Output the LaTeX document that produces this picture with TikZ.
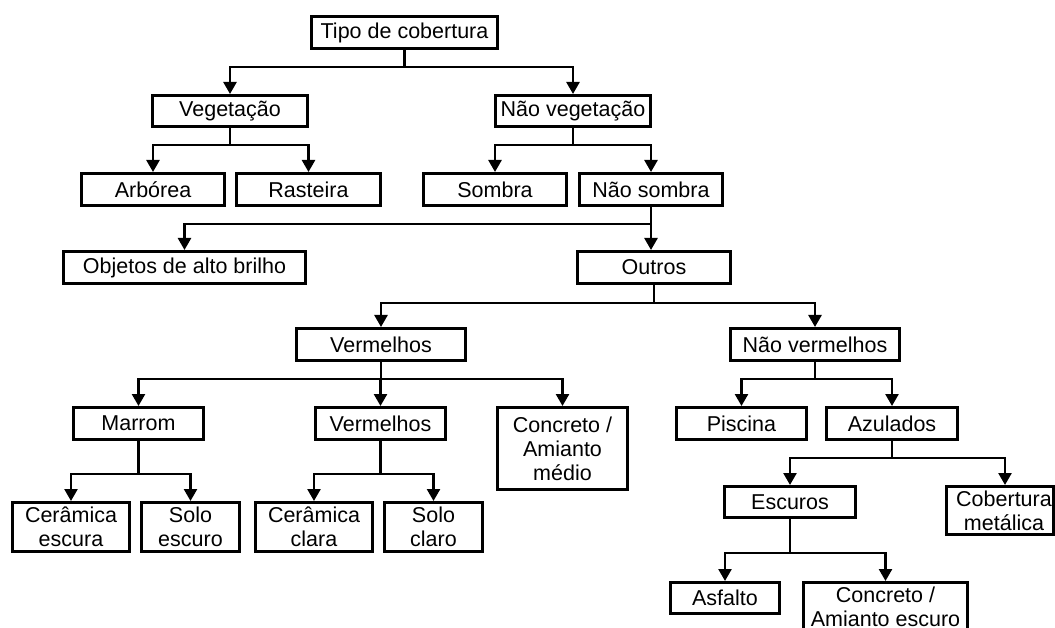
\documentclass[tikz,border=0pt]{standalone}
\usepackage{fontspec}
\setmainfont{Liberation Sans}
\usetikzlibrary{arrows.meta}
\tikzset{
  box/.style={draw=black, line width=3pt, inner sep=0pt, anchor=north, align=center,
    font=\fontsize{21.5pt}{24pt}\selectfont},
  arr/.style={line width=2.5pt, -{Triangle[length=12pt,width=13pt]}},
}
\newcommand{\bx}[6]{% name, x1, x2, ytop, h, text
  \node[box, minimum width={#3-#2-3pt}, minimum height={#5-3pt}] (#1) at ({(#2+#3)/2},#4) {#6};}
\begin{document}
\begin{tikzpicture}[x=1pt,y=-1pt]
\path[use as bounding box, clip] (0,0) rectangle (1055,628);
\fill[white] (0,0) rectangle (1055,628);
% nodes
\bx{tipo}{310}{499}{15}{35}{Tipo de cobertura}
\bx{veg}{151}{309}{94}{34}{Vegetação}
\bx{nveg}{494}{652}{94}{34}{Não vegetação}
\bx{arb}{80}{226}{172}{35}{Arbórea}
\bx{ras}{235}{382}{172}{35}{Rasteira}
\bx{sombra}{422}{568}{172}{35}{Sombra}
\bx{nsombra}{578}{724}{172}{35}{Não sombra}
\bx{obj}{62}{307}{250}{35}{Objetos de alto brilho}
\bx{outros}{576}{732}{250}{35}{Outros}
\bx{verm}{295}{467}{327}{35}{Vermelhos}
\bx{nverm}{729}{901}{327}{35}{Não vermelhos}
\bx{marrom}{72}{205}{406}{35}{Marrom}
\bx{verm2}{314}{447}{406}{35}{Vermelhos}
\bx{concm}{496}{629}{406}{85}{Concreto /\\Amianto\\médio}
\bx{piscina}{675}{808}{406}{35}{Piscina}
\bx{azul}{825}{959}{406}{35}{Azulados}
\bx{ceresc}{11}{131}{501}{52}{Cerâmica\\escura}
\bx{soloesc}{140}{241}{501}{52}{Solo\\escuro}
\bx{cercl}{254}{374}{501}{52}{Cerâmica\\clara}
\bx{solocl}{383}{484}{501}{52}{Solo\\claro}
\bx{escuros}{723}{857}{485}{34}{Escuros}
\bx{cobmet}{945}{1055}{485}{51}{\hspace*{8pt}Cobertura\\\hspace*{8pt}metálica}
\bx{asfalto}{669}{781}{581}{34}{Asfalto}
\bx{concesc}{802}{969}{581}{52}{Concreto /\\Amianto escuro}
% connectors
\draw[arr] (tipo.south) -- ++(0,17) -| (veg.north);
\draw[arr] (tipo.south) -- ++(0,17) -| (nveg.north);
\draw[arr] (veg.south) -- ++(0,17) -| (arb.north);
\draw[arr] (veg.south) -- ++(0,17) -| (ras.north);
\draw[arr] (nveg.south) -- ++(0,17) -| (sombra.north);
\draw[arr] (nveg.south) -- ++(0,17) -| (nsombra.north);
\draw[arr] (nsombra.south) -- ++(0,17) -| (obj.north);
\draw[arr] (nsombra.south) -- (nsombra.south |- outros.north);
\draw[arr] (outros.south) -- ++(0,18) -| (verm.north);
\draw[arr] (outros.south) -- ++(0,18) -| (nverm.north);
\draw[arr] (verm.south) -- ++(0,17) -| (marrom.north);
\draw[arr] (verm.south) -- ++(0,17) -| (verm2.north);
\draw[arr] (verm.south) -- ++(0,17) -| (concm.north);
\draw[arr] (nverm.south) -- ++(0,17) -| (piscina.north);
\draw[arr] (nverm.south) -- ++(0,17) -| (azul.north);
\draw[arr] (marrom.south) -- ++(0,33) -| (ceresc.north);
\draw[arr] (marrom.south) -- ++(0,33) -| (soloesc.north);
\draw[arr] (verm2.south) -- ++(0,33) -| (cercl.north);
\draw[arr] (verm2.south) -- ++(0,33) -| (solocl.north);
\draw[arr] (azul.south) -- ++(0,17) -| (escuros.north);
\draw[arr] (azul.south) -- ++(0,17) -| ([xshift=5pt]cobmet.north);
\draw[arr] (escuros.south) -- ++(0,34) -| (asfalto.north);
\draw[arr] (escuros.south) -- ++(0,34) -| (concesc.north);
\end{tikzpicture}
\end{document}
